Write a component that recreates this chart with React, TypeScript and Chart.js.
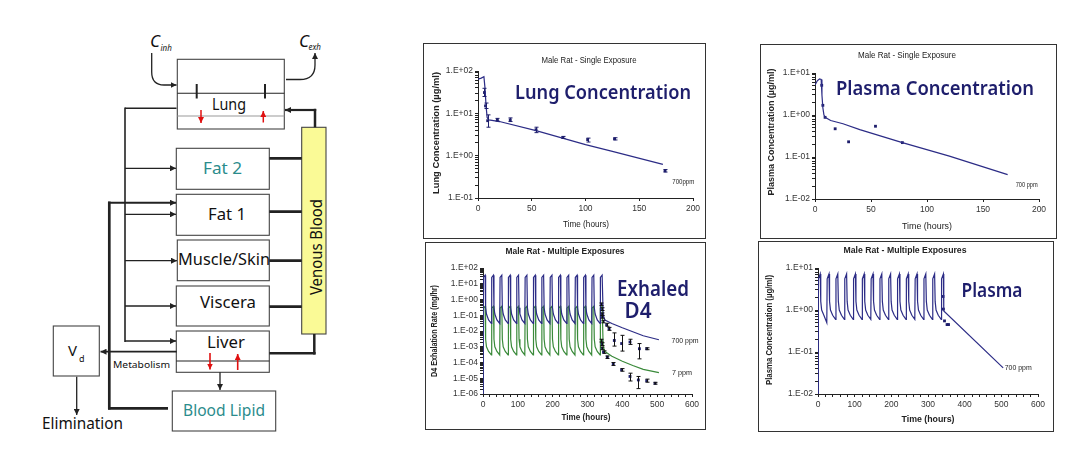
import React, { useEffect, useRef } from "react";
import { Chart, registerables } from "chart.js";
Chart.register(...registerables);

// ---------------- Panel A: Lung, single exposure ----------------
const lungModelT = [0, 3, 5.5, 6.5, 7.5, 8.5, 10, 13, 20, 54, 100, 125, 172];
const lungModelC = [64, 68, 73, 40, 15, 8, 7, 6.8, 6.4, 3.9, 1.82, 1.26, 0.62];
const lungObsT = [6, 7, 9, 18, 30, 54, 79, 102, 127, 174];
const lungObsC = [31, 15, 6.7, 7.0, 7.0, 4.1, 2.7, 2.4, 2.5, 0.44];
const lungObsLo = [25, 13, 4.7, 6.6, 6.4, 3.5, 2.55, 2.1, 2.35, 0.41];
const lungObsHi = [39, 17.5, 9.2, 7.6, 7.8, 4.7, 2.85, 2.6, 2.65, 0.47];
const lungYDecades = [0.1, 1, 10, 100];
const lungXTicks = [0, 50, 100, 150, 200];

// ---------------- Panel B: Plasma, single exposure ----------------
const plasmaModelT = [0, 2, 4, 5.5, 6.2, 7, 8, 9, 14, 25, 40, 78, 120, 172];
const plasmaModelC = [5.2, 6.5, 7.2, 7.0, 3.0, 1.5, 1.0, 0.88, 0.74, 0.62, 0.45, 0.22, 0.105, 0.038];
const plasmaObsT = [6, 7, 9, 18, 30, 54, 78];
const plasmaObsC = [5.1, 1.7, 0.88, 0.47, 0.23, 0.54, 0.22];
const plasmaYDecades = [0.01, 0.1, 1, 10];
const plasmaXTicks = [0, 50, 100, 150, 200];

// ---------------- Panel C: Exhaled D4, multiple exposures ----------------
const exhT = [
  0, 1, 6, 7.5, 10, 16,
  24, 25, 30, 31.5, 34, 40,
  48, 49, 54, 55.5, 58, 64,
  72, 73, 78, 79.5, 82, 88,
  96, 97, 102, 103.5, 106, 112,
  120, 121, 126, 127.5, 130, 136,
  144, 145, 150, 151.5, 154, 160,
  168, 169, 174, 175.5, 178, 184,
  192, 193, 198, 199.5, 202, 208,
  216, 217, 222, 223.5, 226, 232,
  240, 241, 246, 247.5, 250, 256,
  264, 265, 270, 271.5, 274, 280,
  288, 289, 294, 295.5, 298, 304,
  312, 313, 318, 319.5, 322, 328,
  336, 337, 342, 345, 350, 370, 400, 430, 460, 505,
];
const exh700 = [
  1e-6, 25, 35, 0.3, 0.12, 0.05,
  0.03, 25, 35, 0.3, 0.12, 0.05,
  0.03, 25, 35, 0.3, 0.12, 0.05,
  0.03, 25, 35, 0.3, 0.12, 0.05,
  0.03, 25, 35, 0.3, 0.12, 0.05,
  0.03, 25, 35, 0.3, 0.12, 0.05,
  0.03, 25, 35, 0.3, 0.12, 0.05,
  0.03, 25, 35, 0.3, 0.12, 0.05,
  0.03, 25, 35, 0.3, 0.12, 0.05,
  0.03, 25, 35, 0.3, 0.12, 0.05,
  0.03, 25, 35, 0.3, 0.12, 0.05,
  0.03, 25, 35, 0.3, 0.12, 0.05,
  0.03, 25, 35, 0.3, 0.12, 0.05,
  0.03, 25, 35, 0.3, 0.12, 0.05,
  0.03, 25, 35, 0.1, 0.05, 0.03, 0.016, 0.009, 0.005, 0.0028,
];
const exh7 = [
  1e-6, 0.28, 0.37, 3e-3, 1e-3, 5e-4,
  3e-4, 0.28, 0.37, 3e-3, 1e-3, 5e-4,
  3e-4, 0.28, 0.37, 3e-3, 1e-3, 5e-4,
  3e-4, 0.28, 0.37, 3e-3, 1e-3, 5e-4,
  3e-4, 0.28, 0.37, 3e-3, 1e-3, 5e-4,
  3e-4, 0.28, 0.37, 3e-3, 1e-3, 5e-4,
  3e-4, 0.28, 0.37, 3e-3, 1e-3, 5e-4,
  3e-4, 0.28, 0.37, 3e-3, 1e-3, 5e-4,
  3e-4, 0.28, 0.37, 3e-3, 1e-3, 5e-4,
  3e-4, 0.28, 0.37, 3e-3, 1e-3, 5e-4,
  3e-4, 0.28, 0.37, 3e-3, 1e-3, 5e-4,
  3e-4, 0.28, 0.37, 3e-3, 1e-3, 5e-4,
  3e-4, 0.28, 0.37, 3e-3, 1e-3, 5e-4,
  3e-4, 0.28, 0.37, 3e-3, 1e-3, 5e-4,
  3e-4, 0.28, 0.37, 1e-3, 5e-4, 2.5e-4, 1.2e-4, 6.5e-5, 3.7e-5, 2.3e-5,
];
const exhObs700T = [340, 341, 342, 343, 345, 355, 362, 377, 398, 422, 449, 470];
const exhObs700 = [0.5, 0.25, 0.12, 0.08, 0.04, 0.025, 0.014, 2.5e-3, 1.6e-3, 2e-3, 7.5e-4, 7.5e-4];
const exhObs700Lo = [0.42, 0.2, 0.1, 0.065, 0.033, 0.02, 0.011, 1.1e-3, 5.3e-4, 1.4e-3, 1.7e-4, 6.5e-4];
const exhObs700Hi = [0.6, 0.3, 0.14, 0.095, 0.048, 0.031, 0.017, 7.6e-3, 5.3e-3, 3e-3, 1.6e-3, 8.6e-4];
const exhObs7T = [340, 341, 343, 346, 357, 374, 398, 422, 446, 470, 494];
const exhObs7 = [2.5e-3, 1.5e-3, 8e-4, 4.6e-4, 2.2e-4, 8.2e-5, 3.4e-5, 1.3e-5, 7.8e-6, 7e-6, 4.8e-6];
const exhObs7Lo = [2e-3, 1.2e-3, 6.5e-4, 3.8e-4, 1.8e-4, 6.5e-5, 2.8e-5, 6.7e-6, 2.2e-6, 5.6e-6, 4.2e-6];
const exhObs7Hi = [3e-3, 1.8e-3, 9.5e-4, 5.5e-4, 2.6e-4, 1e-4, 4.1e-5, 2.1e-5, 1.3e-5, 8.8e-6, 5.5e-6];
const exhYDecades = [1e-6, 1e-5, 1e-4, 1e-3, 1e-2, 1e-1, 1, 10, 100];
const multiXLabels = [0, 100, 200, 300, 400, 500, 600];

// ---------------- Panel D: Plasma, multiple exposures ----------------
const pmT = [
  0, 1, 6, 7.5, 10, 16,
  24, 25, 30, 31.5, 34, 40,
  48, 49, 54, 55.5, 58, 64,
  72, 73, 78, 79.5, 82, 88,
  96, 97, 102, 103.5, 106, 112,
  120, 121, 126, 127.5, 130, 136,
  144, 145, 150, 151.5, 154, 160,
  168, 169, 174, 175.5, 178, 184,
  192, 193, 198, 199.5, 202, 208,
  216, 217, 222, 223.5, 226, 232,
  240, 241, 246, 247.5, 250, 256,
  264, 265, 270, 271.5, 274, 280,
  288, 289, 294, 295.5, 298, 304,
  312, 313, 318, 319.5, 322, 328,
  336, 337, 342, 343, 505,
];
const pmC = [
  0.01, 5.5, 7.2, 1.6, 1.0, 0.75,
  0.5, 5.5, 7.2, 1.6, 1.0, 0.75,
  0.6, 5.5, 7.2, 1.6, 1.0, 0.75,
  0.6, 5.5, 7.2, 1.6, 1.0, 0.75,
  0.6, 5.5, 7.2, 1.6, 1.0, 0.75,
  0.6, 5.5, 7.2, 1.6, 1.0, 0.75,
  0.6, 5.5, 7.2, 1.6, 1.0, 0.75,
  0.6, 5.5, 7.2, 1.6, 1.0, 0.75,
  0.6, 5.5, 7.2, 1.6, 1.0, 0.75,
  0.6, 5.5, 7.2, 1.6, 1.0, 0.75,
  0.6, 5.5, 7.2, 1.6, 1.0, 0.75,
  0.6, 5.5, 7.2, 1.6, 1.0, 0.75,
  0.6, 5.5, 7.2, 1.6, 1.0, 0.75,
  0.6, 5.5, 7.2, 1.6, 1.0, 0.75,
  0.6, 5.5, 7.2, 0.95, 0.042,
];
const pmObsT = [341, 342, 345, 352, 356];
const pmObsC = [2.1, 1.05, 0.55, 0.45, 0.45];
const pmYDecades = [0.01, 0.1, 1, 10];

// ---------------- helpers ----------------
const NAVY = "#1e1e6c";
const LINE_BLUE = "#2c2c86";
const LINE_GREEN = "#3a8a3a";
const TICK_FONT = { family: "'Liberation Sans', Arial, sans-serif", size: 8.5 };

const pts = (xs: number[], ys: number[]) => xs.map((x, i) => ({ x, y: ys[i] }));

function decadeLabel(v: number) {
  const e = Math.round(Math.log10(v));
  if (Math.abs(v / Math.pow(10, e) - 1) > 1e-6) return "";
  const s = e >= 0 ? "+" : "-";
  return "1.E" + s + String(Math.abs(e)).padStart(2, "0");
}

function logTickValues(decades: number[]) {
  const out: number[] = [];
  for (let i = 0; i < decades.length - 1; i++) {
    for (let m = 1; m < 10; m++) out.push(decades[i] * m);
  }
  out.push(decades[decades.length - 1]);
  return out;
}

type TextItem = {
  text: string; x?: number; y?: number; at?: [number, number];
  font: string; color?: string; rotate?: number; width?: number;
};

function textPlugin(items: TextItem[]) {
  return {
    id: "panelText",
    afterDraw(chart: any) {
      const ctx = chart.ctx;
      for (const t of items) {
        ctx.save();
        ctx.font = t.font;
        ctx.fillStyle = t.color || "#222";
        ctx.textAlign = "center";
        ctx.textBaseline = "middle";
        let x = t.x || 0, y = t.y || 0;
        if (t.at) {
          x = chart.scales.x.getPixelForValue(t.at[0]);
          y = chart.scales.y.getPixelForValue(t.at[1]);
        }
        ctx.translate(x, y);
        if (t.rotate) ctx.rotate(t.rotate);
        if (t.width) {
          const w = ctx.measureText(t.text).width;
          ctx.scale(t.width / w, 1);
        }
        ctx.fillText(t.text, 0, 0);
        ctx.restore();
      }
    },
  };
}

const errorBarPlugin = {
  id: "errorBars",
  afterDatasetsDraw(chart: any) {
    const ctx = chart.ctx;
    const ys = chart.scales.y;
    chart.data.datasets.forEach((ds: any, i: number) => {
      if (!ds.errLo) return;
      const meta = chart.getDatasetMeta(i);
      ctx.save();
      ctx.strokeStyle = ds.errColor || "#111";
      ctx.lineWidth = 1;
      meta.data.forEach((el: any, j: number) => {
        const x = Math.round(el.x) + 0.5;
        const y1 = ys.getPixelForValue(ds.errLo[j]);
        const y2 = ys.getPixelForValue(ds.errHi[j]);
        ctx.beginPath();
        ctx.moveTo(x, y1); ctx.lineTo(x, y2);
        ctx.moveTo(x - 2, y1); ctx.lineTo(x + 2, y1);
        ctx.moveTo(x - 2, y2); ctx.lineTo(x + 2, y2);
        ctx.stroke();
      });
      ctx.restore();
    });
  },
};

type PanelSpec = {
  x: number; y: number; w: number; h: number;
  pad: { l: number; t: number; r: number; b: number };
  xMin: number; xMax: number; xTickValues: number[]; xLabelValues: number[];
  yDecades: number[];
  datasets: any[];
  texts: TextItem[];
};

function buildConfig(p: PanelSpec): any {
  const yTicks = logTickValues(p.yDecades);
  const gridOpts = {
    display: true, drawOnChartArea: false, drawTicks: true, tickLength: 3,
    color: "#222", lineWidth: 1,
  };
  return {
    type: "line",
    data: { datasets: p.datasets },
    options: {
      responsive: false,
      maintainAspectRatio: false,
      animation: false,
      devicePixelRatio: 1,
      layout: { padding: { left: 0, top: p.pad.t, right: p.pad.r, bottom: 0 } },
      plugins: {
        legend: { display: false },
        tooltip: { enabled: false },
        title: { display: false },
      },
      scales: {
        x: {
          type: "linear",
          min: p.xMin, max: p.xMax,
          afterFit: (s: any) => { s.height = p.pad.b; },
          afterBuildTicks: (s: any) => { s.ticks = p.xTickValues.map((v) => ({ value: v })); },
          ticks: {
            autoSkip: false, maxRotation: 0, padding: 3, color: "#333", font: TICK_FONT,
            callback: (v: any) => (p.xLabelValues.includes(Number(v)) ? String(v) : ""),
          },
          grid: gridOpts,
          border: { display: true, color: "#222", width: 1 },
        },
        y: {
          type: "logarithmic",
          min: p.yDecades[0], max: p.yDecades[p.yDecades.length - 1],
          afterFit: (s: any) => { s.width = p.pad.l; },
          afterBuildTicks: (s: any) => { s.ticks = yTicks.map((v) => ({ value: v })); },
          ticks: {
            autoSkip: false, padding: 2, color: "#333", font: TICK_FONT,
            callback: (v: any) => decadeLabel(Number(v)),
          },
          grid: gridOpts,
          border: { display: true, color: "#222", width: 1 },
        },
      },
    },
    plugins: [errorBarPlugin, textPlugin(p.texts)],
  };
}

function Panel({ spec }: { spec: PanelSpec }) {
  const ref = useRef<HTMLCanvasElement>(null);
  useEffect(() => {
    const chart = new Chart(ref.current as HTMLCanvasElement, buildConfig(spec));
    return () => chart.destroy();
  }, []);
  return (
    <>
      <canvas
        ref={ref}
        width={spec.w}
        height={spec.h}
        style={{ position: "absolute", left: spec.x, top: spec.y, width: spec.w, height: spec.h }}
      />
      <div
        style={{
          position: "absolute", left: spec.x, top: spec.y, width: spec.w, height: spec.h,
          border: "1.5px solid #333", boxSizing: "border-box", pointerEvents: "none",
        }}
      />
    </>
  );
}

const modelLine = (data: any, color = LINE_BLUE) => ({
  data, borderColor: color, borderWidth: 1.2, pointRadius: 0, tension: 0, fill: false,
});
const obsPoints = (data: any, extra: any = {}) => ({
  data, showLine: false, pointStyle: "rect", pointRadius: 2,
  pointBackgroundColor: NAVY, pointBorderColor: NAVY, pointBorderWidth: 0, ...extra,
});

const BIG = "600 20px 'Noto Sans', 'DejaVu Sans', sans-serif";
const AXT = "bold 8.5px 'Liberation Sans', Arial, sans-serif";
const TTL = "8.5px 'Liberation Sans', Arial, sans-serif";
const TTLB = "bold 9px 'Liberation Sans', Arial, sans-serif";
const SMALL = "7px 'Liberation Sans', Arial, sans-serif";
const ROT = -Math.PI / 2;

const panels: PanelSpec[] = [
  {
    x: 423, y: 43, w: 283, h: 196,
    pad: { l: 55, t: 28, r: 13, b: 41 },
    xMin: 0, xMax: 200, xTickValues: lungXTicks, xLabelValues: lungXTicks,
    yDecades: lungYDecades,
    datasets: [
      modelLine(pts(lungModelT, lungModelC)),
      obsPoints(pts(lungObsT, lungObsC), { errLo: lungObsLo, errHi: lungObsHi, errColor: NAVY }),
    ],
    texts: [
      { text: "Male Rat - Single Exposure", x: 166, y: 18, font: TTL, width: 95 },
      { text: "Lung Concentration", x: 180, y: 50, font: BIG, color: NAVY, width: 176 },
      { text: "Lung Concentration (µg/ml)", x: 14, y: 90, font: AXT, rotate: ROT, width: 122 },
      { text: "Time (hours)", x: 163, y: 182, font: "9px 'Liberation Sans', Arial, sans-serif", width: 46 },
      { text: "700ppm", at: [191, 0.24], font: SMALL, width: 22 },
    ],
  },
  {
    x: 760, y: 44, w: 297, h: 195,
    pad: { l: 55, t: 29, r: 18, b: 40 },
    xMin: 0, xMax: 200, xTickValues: plasmaXTicks, xLabelValues: plasmaXTicks,
    yDecades: plasmaYDecades,
    datasets: [
      modelLine(pts(plasmaModelT, plasmaModelC)),
      obsPoints(pts(plasmaObsT, plasmaObsC)),
    ],
    texts: [
      { text: "Male Rat - Single Exposure", x: 147, y: 12, font: TTL, width: 98 },
      { text: "Plasma Concentration", x: 175, y: 45, font: BIG, color: NAVY, width: 198 },
      { text: "Plasma Concentration (µg/ml)", x: 12, y: 88, font: AXT, rotate: ROT, width: 127 },
      { text: "Time (hours)", x: 167, y: 183, font: "9px 'Liberation Sans', Arial, sans-serif", width: 50 },
      { text: "700 ppm", at: [189, 0.021], font: SMALL, width: 22 },
    ],
  },
  {
    x: 425, y: 242, w: 281, h: 188,
    pad: { l: 58, t: 26, r: 14, b: 36 },
    xMin: 0, xMax: 600,
    xTickValues: [0, 20, 40, 60, 80, 100, 120, 140, 160, 180, 200, 220, 240, 260, 280, 300, 320, 340, 360, 380, 400, 420, 440, 460, 480, 500, 520, 540, 560, 580, 600],
    xLabelValues: multiXLabels,
    yDecades: exhYDecades,
    datasets: [
      modelLine(pts(exhT, exh700), LINE_BLUE),
      modelLine(pts(exhT, exh7), LINE_GREEN),
      obsPoints(pts(exhObs700T, exhObs700), { errLo: exhObs700Lo, errHi: exhObs700Hi, errColor: "#111" }),
      obsPoints(pts(exhObs7T, exhObs7), { errLo: exhObs7Lo, errHi: exhObs7Hi, errColor: "#111" }),
    ],
    texts: [
      { text: "Male Rat - Multiple Exposures", x: 140, y: 10, font: TTLB, width: 119 },
      { text: "Exhaled", x: 228, y: 48, font: "600 21px 'Noto Sans', 'DejaVu Sans', sans-serif", color: NAVY, width: 72 },
      { text: "D4", x: 213, y: 70, font: "600 21px 'Noto Sans', 'DejaVu Sans', sans-serif", color: NAVY, width: 27 },
      { text: "D4 Exhalation Rate (mg/hr)", x: 10, y: 89, font: AXT, rotate: ROT, width: 92 },
      { text: "Time (hours)", x: 161, y: 176, font: "bold 9px 'Liberation Sans', Arial, sans-serif", width: 49 },
      { text: "700 ppm", at: [580, 2.2e-3], font: SMALL, width: 27 },
      { text: "7 ppm", at: [571, 2.1e-5], font: SMALL, width: 20 },
    ],
  },
  {
    x: 758, y: 241, w: 296, h: 191,
    pad: { l: 60, t: 27, r: 16, b: 38 },
    xMin: 0, xMax: 600,
    xTickValues: [0, 20, 40, 60, 80, 100, 120, 140, 160, 180, 200, 220, 240, 260, 280, 300, 320, 340, 360, 380, 400, 420, 440, 460, 480, 500, 520, 540, 560, 580, 600],
    xLabelValues: multiXLabels,
    yDecades: pmYDecades,
    datasets: [
      modelLine(pts(pmT, pmC), LINE_BLUE),
      obsPoints(pts(pmObsT, pmObsC)),
    ],
    texts: [
      { text: "Male Rat - Multiple Exposures", x: 147, y: 10, font: TTLB, width: 123 },
      { text: "Plasma", x: 234, y: 51, font: "600 19px 'Noto Sans', 'DejaVu Sans', sans-serif", color: NAVY, width: 61 },
      { text: "Plasma Concentration (µg/ml)", x: 12, y: 89, font: AXT, rotate: ROT, width: 110 },
      { text: "Time (hours)", x: 170, y: 179, font: "bold 9px 'Liberation Sans', Arial, sans-serif", width: 53 },
      { text: "700 ppm", at: [546, 0.042], font: SMALL, width: 27 },
    ],
  },
];

// ---------------- Left-hand compartment diagram ----------------
function Diagram() {
  const f = "'Noto Sans', 'DejaVu Sans', sans-serif";
  const teal = "#2b8c8c";
  const red = "#e01010";
  const ln = (x1: number, y1: number, x2: number, y2: number, w = 1.3, arrow = false, color = "#222") => (
    <line x1={x1} y1={y1} x2={x2} y2={y2} stroke={color} strokeWidth={w}
      markerEnd={arrow ? (color === red ? "url(#ahr)" : "url(#ah)") : undefined} />
  );
  const box = (x: number, y: number, w: number, h: number, fill = "#fff", stroke = "#444") => (
    <rect x={x} y={y} width={w} height={h} fill={fill} stroke={stroke} strokeWidth={1.1} />
  );
  const txt = (s: string, x: number, y: number, size: number, width: number, color = "#111", anchor = "start") => (
    <text x={x} y={y} fontFamily={f} fontSize={size} fill={color} textAnchor={anchor}
      textLength={width} lengthAdjust="spacingAndGlyphs">{s}</text>
  );
  return (
    <svg width={410} height={449} style={{ position: "absolute", left: 0, top: 0 }}>
      <defs>
        <marker id="ah" viewBox="0 0 8 8" refX="8" refY="4" markerWidth="6" markerHeight="6"
          markerUnits="userSpaceOnUse" orient="auto">
          <path d="M0,0 L8,4 L0,8 z" fill="#222" />
        </marker>
        <marker id="ahr" viewBox="0 0 8 8" refX="8" refY="4" markerWidth="6" markerHeight="6"
          markerUnits="userSpaceOnUse" orient="auto">
          <path d="M0,0 L8,4 L0,8 z" fill={red} />
        </marker>
      </defs>

      {/* Lung */}
      {box(177.3, 59.3, 107, 69.7)}
      {ln(177.3, 93.3, 284.3, 93.3, 1.1)}
      {ln(177.3, 116, 284.3, 116, 1, false, "#999")}
      {ln(196.7, 84, 196.7, 98.5, 2)}
      {ln(265, 84, 265, 98.5, 2)}
      {ln(201, 110, 201, 123, 1.5, true, red)}
      {ln(263.3, 122.5, 263.3, 111, 1.5, true, red)}
      {txt("Lung", 212, 110, 16, 34)}

      {/* C inh / C exh */}
      <text x={150} y={47} fontFamily={f} fontSize={17} fontStyle="italic" fill="#111">C</text>
      <text x={160.5} y={51} fontFamily={f} fontSize={8} fontStyle="italic" fill="#111">inh</text>
      <text x={299} y={47} fontFamily={f} fontSize={17} fontStyle="italic" fill="#111">C</text>
      <text x={308.5} y={50} fontFamily={f} fontSize={8} fontStyle="italic" fill="#111">exh</text>
      <path d="M151.7,53 L151.7,72 Q151.7,85 164,85 L176.5,85" fill="none" stroke="#222" strokeWidth={1.3} markerEnd="url(#ah)" />
      <path d="M286,79.5 L300,79.5 Q315,79.5 315,65 L315,53" fill="none" stroke="#222" strokeWidth={1.3} markerEnd="url(#ah)" />

      {/* Tissue boxes */}
      {box(176.3, 148.3, 93, 41)}
      {txt("Fat 2", 203, 174, 17, 39, teal)}
      {box(176.3, 194.3, 93, 41)}
      {txt("Fat 1", 208, 220, 17, 38)}
      {box(177.3, 240, 92, 40.7)}
      {txt("Muscle/Skin", 178, 265, 16, 92)}
      {box(176.3, 286, 93, 40)}
      {txt("Viscera", 200, 308, 17, 56)}
      {box(176.3, 331, 93, 41.3)}
      {ln(176.3, 361, 269.3, 361, 1.1)}
      {txt("Liver", 207, 348, 17, 38)}
      {ln(210, 353, 210, 369.5, 1.6, true, red)}
      {ln(237.7, 370, 237.7, 354, 1.6, true, red)}
      {box(172.3, 391, 103.4, 40)}
      {txt("Blood Lipid", 183, 416, 16, 82, teal)}

      {/* Venous blood */}
      {box(301.7, 127.3, 24.3, 206.7, "#fafa96", "#444")}
      <text x={0} y={0} transform="translate(321.5,295) rotate(-90)" fontFamily={f} fontSize={16}
        fill="#111" textLength={96} lengthAdjust="spacingAndGlyphs">Venous Blood</text>

      {/* Arterial distribution */}
      {ln(125, 108.3, 176.5, 108.3, 1.6)}
      {ln(125, 107.5, 125, 342, 1.6)}
      {ln(125, 168.3, 176, 168.3, 1.3, true)}
      {ln(125, 214.3, 176, 214.3, 1.3, true)}
      {ln(125, 260.7, 177, 260.7, 1.3, true)}
      {ln(125, 306, 176, 306, 1.3, true)}
      {ln(125, 341, 176, 341, 1.3, true)}

      {/* Blood lipid return loop */}
      {ln(109.3, 201.5, 109.3, 409.5, 2.7)}
      {ln(108, 408.3, 168, 408.3, 2.7)}
      {ln(108, 202.7, 176, 202.7, 2, true)}

      {/* Venous return */}
      {ln(269.3, 158.3, 301.7, 158.3, 2.7)}
      {ln(269.3, 211.7, 301.7, 211.7, 2.7)}
      {ln(269.3, 260.7, 301.7, 260.7, 2.7)}
      {ln(269.3, 306.7, 301.7, 306.7, 2.7)}
      {ln(269.3, 353.3, 315.6, 353.3, 2.5)}
      {ln(314.3, 354.5, 314.3, 334, 2.5)}
      {ln(315, 127.3, 315, 108.8, 2.5)}
      {ln(316.2, 110, 285, 110, 2.2, true)}

      {/* Metabolism / elimination */}
      {ln(176.7, 351.7, 100.5, 351.7, 1.8, true)}
      {box(53.3, 326, 46, 50)}
      <text x={68} y={356} fontFamily={f} fontSize={15} fill="#111">V</text>
      <text x={79} y={362} fontFamily={f} fontSize={9} fill="#111">d</text>
      {txt("Metabolism", 113, 368, 9, 57)}
      {ln(76.7, 376.7, 76.7, 415, 1.3, true)}
      {txt("Elimination", 42, 429, 16, 81)}
      {ln(220, 372.3, 220, 390, 1.3, true)}
    </svg>
  );
}

export default function App() {
  return (
    <div
      style={{
        position: "fixed", left: 0, top: 0, width: 1070, height: 449,
        background: "#fff", overflow: "hidden",
      }}
    >
      <Diagram />
      {panels.map((p, i) => (
        <Panel key={i} spec={p} />
      ))}
    </div>
  );
}
